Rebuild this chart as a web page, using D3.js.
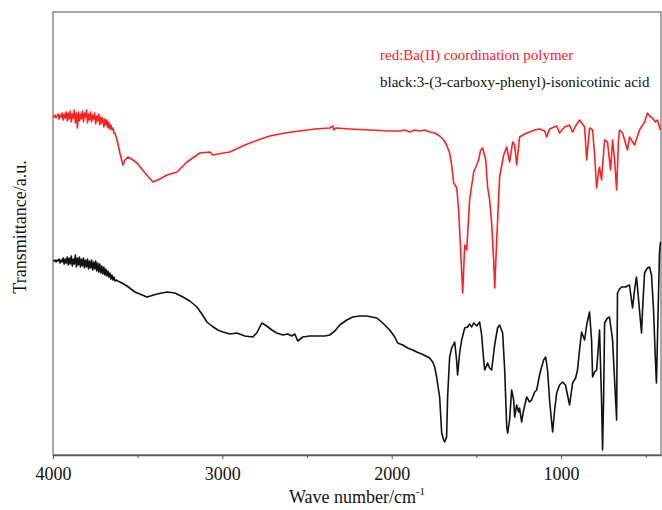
<!DOCTYPE html>
<html>
<head>
<meta charset="utf-8">
<script src="https://cdn.jsdelivr.net/npm/d3@7"></script>
<style>
    body { margin: 0; background: #fff; }
</style>
</head>
<body>
<div id="chart"></div>
<script>
const FONT = '"Liberation Serif", "DejaVu Serif", serif';

// IR spectra: [wavenumber (cm-1), transmittance (a.u.)]
const redPoints = [
    [4000, 339], [3994, 338], [3988, 340], [3982, 337], [3976, 339], [3970, 341],
    [3964, 336], [3958, 340], [3952, 338], [3946, 342], [3940, 335], [3934, 341],
    [3928, 337], [3922, 343], [3916, 334], [3910, 342], [3904, 336], [3898, 344],
    [3892, 333], [3886, 341], [3880, 337], [3874, 345], [3868, 332], [3862, 342],
    [3856, 327], [3850, 343], [3844, 334], [3838, 341], [3832, 336], [3826, 344],
    [3820, 333], [3814, 342], [3808, 338], [3802, 345], [3796, 332], [3790, 341],
    [3784, 335], [3778, 343], [3772, 333], [3766, 340], [3760, 336], [3754, 342],
    [3748, 331], [3742, 339], [3736, 334], [3730, 341], [3724, 330], [3718, 338],
    [3712, 332], [3706, 337], [3700, 328], [3694, 336], [3688, 330], [3682, 335],
    [3676, 327], [3670, 333], [3664, 326], [3658, 330], [3652, 325], [3646, 327],
    [3640, 322], [3634, 322], [3622, 315], [3605, 302],
    [3587, 290], [3575, 295], [3558, 298], [3528, 295], [3504, 292], [3457, 282],
    [3410, 273], [3369, 276], [3327, 280], [3268, 283], [3209, 293], [3133, 302],
    [3074, 303], [3056, 300], [3027, 301], [2956, 303], [2867, 310], [2790, 315],
    [2720, 319], [2631, 322], [2543, 324], [2454, 326], [2366, 327], [2348, 329],
    [2342, 325], [2330, 327], [2248, 326], [2130, 325], [2012, 324], [1953, 324],
    [1923, 325], [1894, 323], [1864, 325], [1835, 324], [1805, 325], [1776, 323],
    [1746, 322], [1717, 319], [1693, 315], [1676, 310], [1658, 302], [1646, 290],
    [1634, 272], [1616, 267], [1605, 245], [1593, 205], [1581, 162], [1569, 210],
    [1557, 205], [1540, 255], [1516, 283], [1498, 290], [1487, 295], [1475, 305],
    [1463, 307], [1445, 295], [1434, 268], [1422, 255], [1410, 232], [1398, 195],
    [1392, 167], [1380, 215], [1363, 278], [1339, 300], [1321, 308], [1304, 293],
    [1286, 313], [1274, 310], [1262, 290], [1245, 318], [1215, 321], [1186, 323],
    [1156, 325], [1127, 326], [1097, 324], [1085, 318], [1068, 326], [1026, 329],
    [1009, 322], [979, 328], [950, 330], [932, 323], [914, 329], [891, 335],
    [861, 328], [849, 295], [832, 327], [814, 325], [802, 300], [790, 267],
    [779, 283], [773, 288], [761, 275], [743, 315], [726, 313], [708, 285],
    [696, 315], [684, 295], [672, 265], [661, 315], [655, 325], [637, 322],
    [608, 305], [596, 318], [566, 310], [537, 325], [507, 333], [490, 342],
    [472, 338], [460, 337], [443, 333], [431, 335], [413, 325]
];

const blackPoints = [
    [4000, 194], [3994, 194], [3988, 195], [3982, 193], [3976, 195], [3970, 194],
    [3964, 196], [3958, 192], [3952, 195], [3946, 193], [3940, 197], [3934, 191],
    [3928, 196], [3922, 192], [3916, 198], [3910, 190], [3904, 197], [3898, 191],
    [3892, 199], [3886, 189], [3880, 196], [3874, 191], [3868, 200], [3862, 188],
    [3856, 197], [3850, 190], [3844, 198], [3838, 188], [3832, 196], [3826, 189],
    [3820, 197], [3814, 187], [3808, 195], [3802, 188], [3796, 196], [3790, 186],
    [3784, 194], [3778, 187], [3772, 195], [3766, 185], [3760, 193], [3754, 186],
    [3748, 194], [3742, 184], [3736, 192], [3730, 183], [3724, 191], [3718, 182],
    [3712, 189], [3706, 181], [3700, 188], [3694, 180], [3688, 186], [3682, 179],
    [3676, 184], [3670, 178], [3664, 182], [3658, 176], [3652, 180], [3646, 175],
    [3640, 178], [3634, 174], [3628, 175], [3617, 174],
    [3593, 172], [3563, 169], [3516, 163], [3445, 158], [3386, 161], [3327, 163],
    [3280, 162], [3233, 158], [3192, 154], [3150, 148], [3121, 141], [3091, 133],
    [3062, 129], [3027, 125], [2997, 123], [2956, 121], [2914, 122], [2867, 119],
    [2820, 118], [2797, 122], [2767, 132], [2738, 129], [2708, 125], [2679, 122],
    [2643, 120], [2614, 121], [2590, 119], [2572, 121], [2555, 114], [2525, 118],
    [2484, 119], [2442, 119], [2395, 119], [2366, 120], [2336, 124], [2307, 130],
    [2265, 135], [2230, 138], [2189, 139], [2147, 139], [2118, 138], [2088, 137],
    [2053, 132], [2012, 125], [1982, 118], [1965, 112], [1935, 110], [1906, 107],
    [1876, 105], [1852, 103], [1823, 101], [1799, 99], [1776, 97], [1758, 93],
    [1746, 88], [1735, 78], [1717, 58], [1705, 22], [1693, 15], [1687, 13],
    [1676, 18], [1670, 58], [1658, 98], [1646, 107], [1628, 113], [1617, 95],
    [1611, 80], [1599, 102], [1587, 115], [1569, 127], [1552, 128], [1540, 131],
    [1528, 128], [1516, 132], [1498, 129], [1481, 133], [1469, 120], [1457, 95],
    [1451, 85], [1434, 92], [1422, 87], [1410, 85], [1392, 110], [1375, 127],
    [1363, 130], [1345, 122], [1333, 85], [1321, 28], [1315, 22], [1304, 35],
    [1292, 65], [1280, 55], [1274, 38], [1262, 50], [1251, 43], [1245, 47],
    [1233, 33], [1221, 45], [1203, 58], [1186, 53], [1174, 55], [1156, 63],
    [1144, 65], [1127, 80], [1115, 88], [1103, 95], [1091, 98], [1080, 85],
    [1068, 55], [1050, 23], [1038, 45], [1026, 62], [1009, 70], [991, 73],
    [974, 70], [962, 60], [950, 50], [932, 72], [914, 77], [903, 85],
    [891, 105], [879, 123], [861, 115], [849, 130], [832, 143], [820, 115],
    [814, 78], [802, 83], [790, 85], [779, 110], [773, 125], [761, 55],
    [755, 5], [749, 55], [743, 132], [726, 137], [714, 138], [696, 115],
    [684, 75], [672, 35], [667, 162], [655, 166], [643, 168], [620, 168],
    [596, 170], [578, 147], [566, 165], [555, 178], [549, 168], [537, 145],
    [525, 122], [519, 145], [507, 182], [490, 187], [478, 188], [466, 180],
    [454, 145], [443, 95], [437, 72], [431, 115], [419, 202], [413, 213]
];

const xTicks = [4000, 3000, 2000, 1000];
const xMinorTicks = [3500, 2500, 1500, 500];
const legendLabels = ['red:Ba(II) coordination polymer', 'black:3-(3-carboxy-phenyl)-isonicotinic acid'];
const legendColors = ['#ff2020', '#111'];

const width = 662, height = 510;
const margin = { top: 12, right: 1, bottom: 55, left: 53 };

const svg = d3.select('#chart').append('svg')
    .attr('width', width)
    .attr('height', height)
    .attr('font-family', FONT);

const x = d3.scaleLinear()
    .domain([4000, 410])
    .range([margin.left, width - margin.right]);

const y = d3.scaleLinear()
    .domain([0, 443])
    .range([height - margin.bottom, margin.top]);

// frame
svg.append('rect')
    .attr('x', margin.left)
    .attr('y', margin.top)
    .attr('width', width - margin.right - margin.left)
    .attr('height', height - margin.bottom - margin.top)
    .attr('fill', 'none')
    .attr('stroke', '#8a8a8a')
    .attr('stroke-width', 1.5);

// x axis
const xAxis = svg.append('g')
    .attr('transform', 'translate(0,' + (height - margin.bottom) + ')')
    .call(d3.axisBottom(x).tickValues(xTicks).tickFormat(d3.format('d'))
        .tickSize(4).tickSizeOuter(0).tickPadding(8));
xAxis.attr('font-family', FONT);
xAxis.select('.domain').attr('stroke', '#555').attr('stroke-width', 1.5);
xAxis.selectAll('.tick line').attr('stroke', '#555');
xAxis.selectAll('text').attr('font-size', 18).attr('fill', '#111');

svg.append('g')
    .attr('transform', 'translate(0,' + (height - margin.bottom) + ')')
    .call(d3.axisBottom(x).tickValues(xMinorTicks).tickSize(3).tickFormat(''))
    .call(g => g.select('.domain').remove())
    .selectAll('.tick line').attr('stroke', '#555');

// axis titles
const xTitle = svg.append('text')
    .attr('x', 357)
    .attr('y', 503)
    .attr('text-anchor', 'middle')
    .attr('font-size', 18)
    .attr('fill', '#111');
xTitle.append('tspan').text('Wave number/cm');
xTitle.append('tspan').attr('font-size', 11).attr('dy', -8).text('-1');

svg.append('text')
    .attr('transform', 'translate(26,227) rotate(-90)')
    .attr('text-anchor', 'middle')
    .attr('font-size', 18)
    .attr('fill', '#111')
    .text('Transmittance/a.u.');

// spectra
const line = d3.line()
    .x(d => x(d[0]))
    .y(d => y(d[1]));

svg.append('path')
    .datum(blackPoints)
    .attr('fill', 'none')
    .attr('stroke', legendColors[1])
    .attr('stroke-width', 1.6)
    .attr('stroke-linejoin', 'round')
    .attr('d', line);

svg.append('path')
    .datum(redPoints)
    .attr('fill', 'none')
    .attr('stroke', legendColors[0])
    .attr('stroke-width', 1.6)
    .attr('stroke-linejoin', 'round')
    .attr('d', line);

// legend
svg.selectAll('text.legend')
    .data(legendLabels)
    .join('text')
        .attr('class', 'legend')
        .attr('x', 380)
        .attr('y', (d, i) => 60 + i * 27)
        .attr('font-size', 15)
        .attr('fill', (d, i) => legendColors[i])
        .text(d => d);
</script>
</body>
</html>
